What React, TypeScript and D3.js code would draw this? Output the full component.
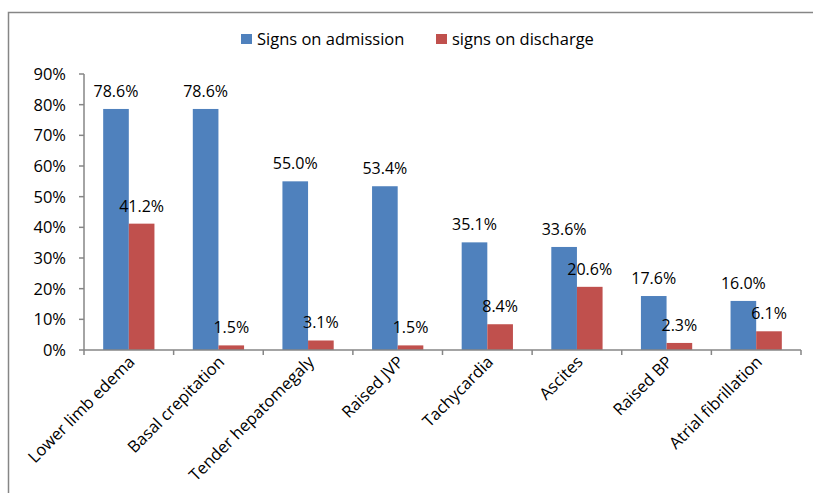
import * as React from 'react';
import * as d3 from 'd3';

const categories: string[] = [
  'Lower limb edema',
  'Basal crepitation',
  'Tender hepatomegaly',
  'Raised JVP',
  'Tachycardia',
  'Ascites',
  'Raised BP',
  'Atrial fibrillation',
];
const admission: number[] = [78.6, 78.6, 55.0, 53.4, 35.1, 33.6, 17.6, 16.0];
const discharge: number[] = [41.2, 1.5, 3.1, 1.5, 8.4, 20.6, 2.3, 6.1];
const seriesNames: string[] = ['Signs on admission', 'signs on discharge'];
const yTicks: number[] = [0, 10, 20, 30, 40, 50, 60, 70, 80, 90];

const W = 813;
const H = 493;
const FONT = '"Open Sans", sans-serif';
const colors = ['#4F81BD', '#C0504D'];
const axisColor = '#868686';

export default function App() {
  const left = 84;
  const right = 801;
  const top = 74;
  const bottom = 350;

  const x = d3.scaleBand<string>().domain(categories).range([left, right]);
  const y = d3.scaleLinear().domain([0, 90]).range([bottom, top]);
  const bw = x.bandwidth();
  const barW = bw * 0.286;
  const series = [admission, discharge];

  return (
    <svg
      width={W}
      height={H}
      style={{ position: 'absolute', left: 0, top: 0, background: '#fff' }}
      fontFamily={FONT}
    >
      {/* outer frame */}
      <rect x={8.5} y={12.5} width={W + 20} height={H + 20} fill="none" stroke={axisColor} strokeWidth={1.5} />

      {/* legend */}
      {seriesNames.map((name, i) => {
        const lx = i === 0 ? 241 : 436;
        return (
          <g key={name}>
            <rect x={lx} y={34} width={11} height={10} fill={colors[i]} />
            <text x={lx + 16} y={45} fontSize={16.5} fill="#000">{name}</text>
          </g>
        );
      })}

      {/* bars */}
      {series.map((vals, si) =>
        vals.map((v, ci) => {
          const bx = (x(categories[ci]) as number) + bw / 2 - barW + si * barW;
          return (
            <g key={`${si}-${ci}`}>
              <rect x={bx} y={y(v)} width={barW} height={bottom - y(v)} fill={colors[si]} />
              <text
                x={bx + barW / 2}
                y={y(v) - 12}
                textAnchor="middle"
                fontSize={16}
                fill="#000"
              >
                {v.toFixed(1) + '%'}
              </text>
            </g>
          );
        })
      )}

      {/* y axis */}
      <line x1={left} x2={left} y1={top} y2={bottom} stroke={axisColor} strokeWidth={1.5} />
      {yTicks.map(t => (
        <g key={t}>
          <line x1={left - 5} x2={left} y1={y(t)} y2={y(t)} stroke={axisColor} strokeWidth={1.5} />
          <text x={left - 18} y={y(t) + 6} textAnchor="end" fontSize={16.5} fill="#000">{t + '%'}</text>
        </g>
      ))}

      {/* x axis */}
      <line x1={left} x2={right} y1={bottom} y2={bottom} stroke={axisColor} strokeWidth={1.5} />
      {categories.concat(['']).map((c, i) => {
        const tx = i < categories.length ? (x(c) as number) : right;
        return <line key={'t' + i} x1={tx} x2={tx} y1={bottom} y2={bottom + 5} stroke={axisColor} strokeWidth={1.5} />;
      })}
      {categories.map(c => {
        const cx = (x(c) as number) + bw / 2 + 7;
        const cy = bottom + 13;
        return (
          <text
            key={c}
            transform={`translate(${cx},${cy}) rotate(-45)`}
            textAnchor="end"
            fontSize={16.5}
            fill="#000"
          >
            {c}
          </text>
        );
      })}
    </svg>
  );
}
